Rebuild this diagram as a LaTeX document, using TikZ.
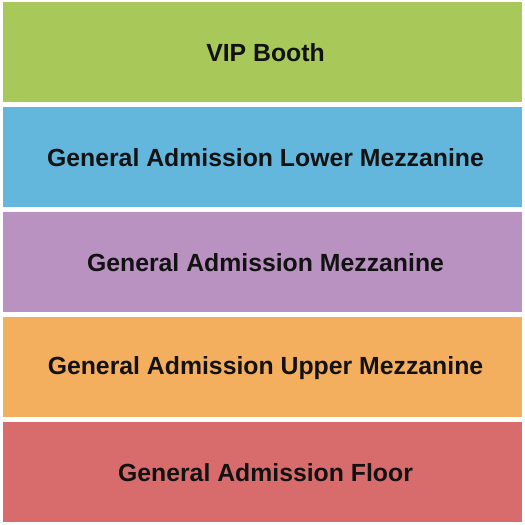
\documentclass[tikz,border=0pt]{standalone}
\usepackage{fontspec}
\setmainfont{Liberation Sans}

\definecolor{vipgreen}{RGB}{168,200,90}
\definecolor{lowerblue}{RGB}{99,183,221}
\definecolor{mezzpurple}{RGB}{185,146,193}
\definecolor{upperorange}{RGB}{244,175,94}
\definecolor{floorred}{RGB}{216,108,108}

\begin{document}
\begin{tikzpicture}[x=1pt, y=1pt, band/.style = {minimum width=519pt, minimum height=100pt, inner sep=0pt}, bandtext/.style = {inner sep=0pt, text=black!93, font=\fontsize{24.8}{28}\selectfont\bfseries}]
		\useasboundingbox (0,0) rectangle (525,525);
		% Bereiche
		\node[band, fill=vipgreen] (vip) at (262.5,473) {};
		\node[band, fill=lowerblue] (lower) at (262.5,368) {};
		\node[band, fill=mezzpurple] (mezz) at (262.5,263) {};
		\node[band, fill=upperorange] (upper) at (262.5,158) {};
		\node[band, fill=floorred] (floor) at (262.5,53) {};
		% Beschriftung
		\node[bandtext] (viptext) at ([xshift=3pt, yshift=-1pt]vip.center) {VIP Booth};
		\node[bandtext] (lowertext) at ([xshift=3pt, yshift=-1pt]lower.center) {General Admission Lower Mezzanine};
		\node[bandtext] (mezztext) at ([xshift=3pt, yshift=-1pt]mezz.center) {General Admission Mezzanine};
		\node[bandtext] (uppertext) at ([xshift=3pt, yshift=-1pt]upper.center) {General Admission Upper Mezzanine};
		\node[bandtext] (floortext) at ([xshift=3pt, yshift=-1pt]floor.center) {General Admission Floor};
		\end{tikzpicture}
\end{document}
